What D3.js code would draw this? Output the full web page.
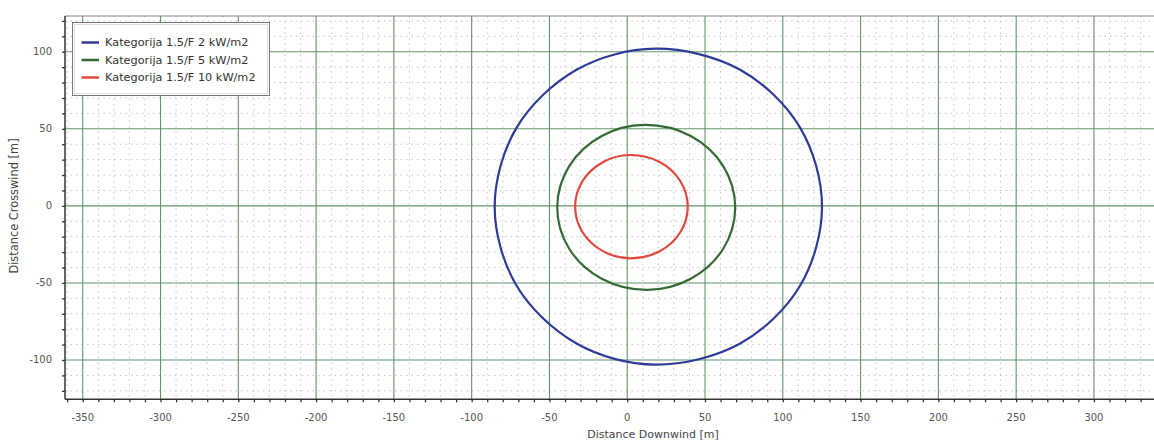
<!DOCTYPE html>
<html><head><meta charset="utf-8">
<script src="https://cdn.jsdelivr.net/npm/d3@7"></script>
<style>body{margin:0;background:#fff}svg{display:block}</style>
</head><body>
<svg id="c" width="1154" height="442"></svg>
<script>
// ---- data ----
const seriesNames = ["Kategorija 1.5/F 2 kW/m2", "Kategorija 1.5/F 5 kW/m2", "Kategorija 1.5/F 10 kW/m2"];
const seriesColors = ["#2f3a98", "#336a33", "#e0483c"];
// contour points [downwind m, crosswind m]
const contour2kW = [[125.2,-0.5],[111.1,50.8],[72.6,88.3],[18,102],[-32.6,88.3],[-71.1,50.8],[-85.2,-0.5],[-71.1,-51.8],[-32.6,-89.3],[18,-103],[72.6,-89.3],[111.1,-51.8]];
const contour5kW = [[69.4,-1],[61.7,25.8],[40.8,45.3],[11,52.5],[-16.4,45.3],[-37.3,25.8],[-45,-1],[-37.3,-27.8],[-16.4,-47.3],[13,-54.5],[40.8,-47.3],[61.7,-27.8]];
const contour10kW = [[38.9,-0.5],[34,16.3],[20.8,28.5],[1.5,33],[-15.4,28.5],[-28.6,16.3],[-33.5,-0.5],[-28.6,-17.3],[-15.4,-29.5],[2,-34],[20.8,-29.5],[34,-17.3]];
const xMajorTicks = [-350,-300,-250,-200,-150,-100,-50,0,50,100,150,200,250,300];
const yMajorTicks = [-100,-50,0,50,100];
const xTitle = "Distance Downwind [m]";
const yTitle = "Distance Crosswind [m]";

const contours = [contour2kW, contour5kW, contour10kW];

// ---- layout ----
const L = 65, R = 1154, T = 16, B = 399.3;
const svg = d3.select("#c");
const x = d3.scaleLinear().domain([-361.4, 338.6]).range([L, R]);
const y = d3.scaleLinear().domain([-125.5, 123.2]).range([B, T]);
const font = "'DejaVu Sans', sans-serif";

const xMinor = d3.range(-360, 340, 10);
const yMinor = d3.range(-120, 124, 10);

// minor grid
const g = svg.append("g");
g.selectAll(".xm").data(xMinor.filter(v => v % 50 !== 0)).join("line")
  .attr("x1", d => x(d)).attr("x2", d => x(d)).attr("y1", T).attr("y2", B)
  .attr("stroke", "#bcc8bc").attr("stroke-width", 1).attr("stroke-dasharray", "1.5,4");
g.selectAll(".ym").data(yMinor.filter(v => v % 50 !== 0)).join("line")
  .attr("y1", d => y(d)).attr("y2", d => y(d)).attr("x1", L).attr("x2", R)
  .attr("stroke", "#bcc8bc").attr("stroke-width", 1).attr("stroke-dasharray", "1.5,4");
// major grid
g.selectAll(".xM").data(xMajorTicks).join("line")
  .attr("x1", d => x(d)).attr("x2", d => x(d)).attr("y1", T).attr("y2", B)
  .attr("stroke", "#62946a").attr("stroke-width", 1.1);
g.selectAll(".yM").data(yMajorTicks).join("line")
  .attr("y1", d => y(d)).attr("y2", d => y(d)).attr("x1", L).attr("x2", R)
  .attr("stroke", "#62946a").attr("stroke-width", 1.1);

// top frame
svg.append("line").attr("x1", L).attr("x2", R).attr("y1", T).attr("y2", T)
  .attr("stroke", "#8a7f80").attr("stroke-width", 1.2);

// axes
const xAxis = d3.axisBottom(x).tickValues(xMinor).tickSize(3).tickFormat("");
const gx = svg.append("g").attr("transform", `translate(0,${B})`).call(xAxis);
const yAxis = d3.axisLeft(y).tickValues(yMinor).tickSize(3).tickFormat("");
const gy = svg.append("g").attr("transform", `translate(${L},0)`).call(yAxis);
[gx, gy].forEach(a => {
  a.select(".domain").attr("stroke", "#333").attr("stroke-width", 1.5);
  a.selectAll(".tick line").attr("stroke", "#333").attr("stroke-width", 1.3);
});
gx.select(".domain").attr("d", `M${L},0H${R}`);
gy.select(".domain").attr("d", `M0,${T}V${B}`);

// tick labels
svg.append("g").selectAll("text").data(xMajorTicks).join("text")
  .attr("x", d => x(d)).attr("y", 421).attr("text-anchor", "middle")
  .attr("font-family", font).attr("font-size", 10).attr("fill", "#555")
  .text(d => d);
svg.append("g").selectAll("text").data(yMajorTicks).join("text")
  .attr("x", 52).attr("y", d => y(d)).attr("dy", "0.35em").attr("text-anchor", "end")
  .attr("font-family", font).attr("font-size", 10).attr("fill", "#555")
  .text(d => d);

// axis titles
svg.append("text").attr("x", 653).attr("y", 438).attr("text-anchor", "middle")
  .attr("font-family", font).attr("font-size", 11).attr("fill", "#444").text(xTitle);
svg.append("text").attr("transform", "translate(18,206) rotate(-90)").attr("text-anchor", "middle")
  .attr("font-family", font).attr("font-size", 11.4).attr("fill", "#444").text(yTitle);

// contours
const line = d3.line().x(d => x(d[0])).y(d => y(d[1])).curve(d3.curveCatmullRomClosed.alpha(0.5));
svg.append("g").selectAll("path").data(contours).join("path")
  .attr("d", line).attr("fill", "none")
  .attr("stroke", (d, i) => seriesColors[i]).attr("stroke-width", 2.2);

// legend
const lg = svg.append("g");
lg.append("rect").attr("x", 72.5).attr("y", 22.5).attr("width", 197).attr("height", 73)
  .attr("fill", "#fff").attr("stroke", "#777").attr("stroke-width", 1);
lg.append("rect").attr("x", 74.5).attr("y", 24.5).attr("width", 193).attr("height", 69)
  .attr("fill", "none").attr("stroke", "#ddd").attr("stroke-width", 1);
const rowsY = [42.5, 60, 77.5];
seriesNames.forEach((n, i) => {
  lg.append("line").attr("x1", 81.5).attr("x2", 99).attr("y1", rowsY[i]).attr("y2", rowsY[i])
    .attr("stroke", seriesColors[i]).attr("stroke-width", 2.5);
  lg.append("text").attr("x", 105).attr("y", rowsY[i]).attr("dy", "0.35em")
    .attr("font-family", font).attr("font-size", 11.3).attr("fill", "#333").text(n);
});
</script>
</body></html>
